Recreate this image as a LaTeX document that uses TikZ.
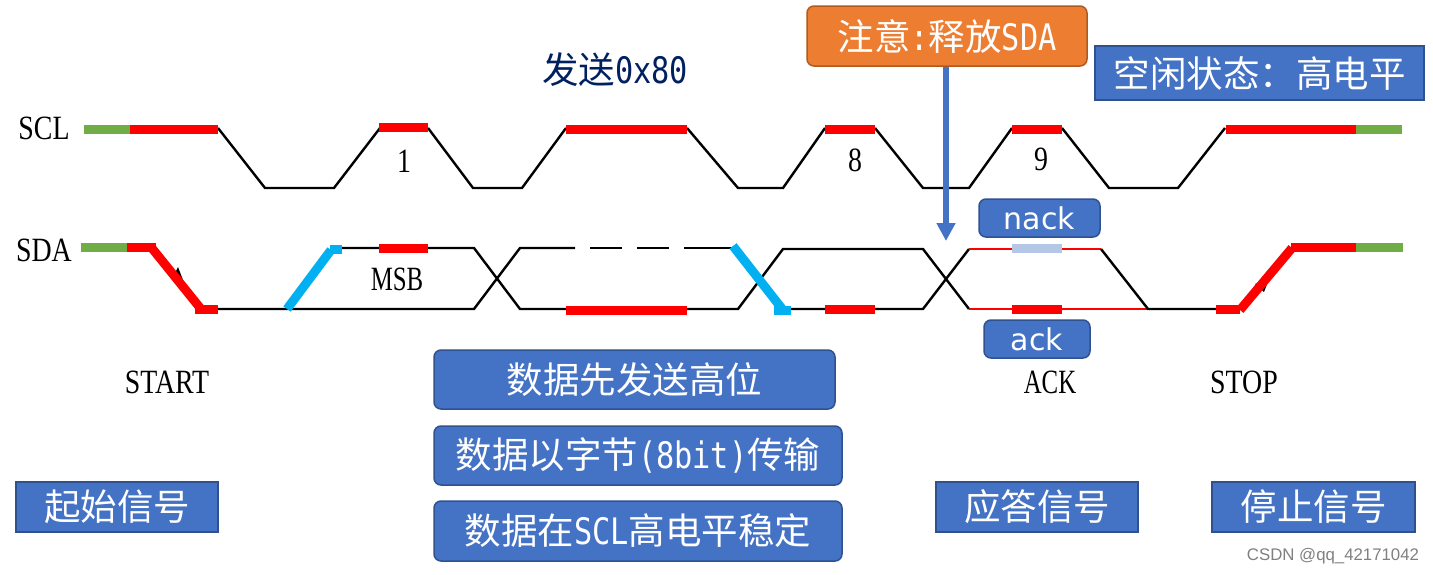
\documentclass[tikz,border=0pt]{standalone}
\usepackage{fontspec}
\usepackage{xcolor}
\usetikzlibrary{arrows.meta}
\newfontfamily\cjkfont{Noto Sans CJK SC}
\newfontfamily\halffont[FakeStretch=0.83]{DejaVu Sans Mono}
\newfontfamily\labelfont[FakeStretch=0.82]{Liberation Serif}
\newfontfamily\narrowfont[FakeStretch=0.73]{Liberation Serif}
\newfontfamily\ackfont{DejaVu Sans}
\newfontfamily\markfont{Liberation Sans}
\definecolor{boxBlueColor}{RGB}{68,114,196}
\definecolor{boxBorderColor}{RGB}{47,82,143}
\definecolor{noteColor}{RGB}{237,125,49}
\definecolor{noteBorderColor}{RGB}{174,90,33}
\definecolor{idleColor}{RGB}{112,173,71}
\definecolor{changeColor}{RGB}{0,176,240}
\definecolor{nackColor}{RGB}{180,199,231}
\definecolor{titleColor}{RGB}{0,32,96}

\begin{document}
\begin{tikzpicture}[
        x=1pt, y=-1pt,
        wave/.style={draw=black, line width=2.4pt},
        thinred/.style={draw=red, line width=2.4pt},
        hold/.style={draw=red, line width=9pt},
        idle/.style={draw=idleColor, line width=9pt},
        change/.style={draw=changeColor, line width=9pt},
        infobox/.style={
                draw=boxBorderColor,
                line width=1.5pt,
                fill=boxBlueColor,
                text=white,
                inner sep=0pt,
                font=\cjkfont\fontsize{36.5}{40}\selectfont
            },
        roundbox/.style={infobox, rounded corners=7pt},
        sigbox/.style={roundbox, font=\ackfont\fontsize{30}{34}\selectfont},
        siglabel/.style={inner sep=0pt, font=\labelfont\fontsize{34}{38}\selectfont},
        narrowlabel/.style={inner sep=0pt, font=\narrowfont\fontsize{34}{38}\selectfont}
    ]
    \useasboundingbox (0,0) rectangle (1433,574);

    % ---- Levels ----
    \def\sclH{128}
    \def\sclL{188}
    \def\sdaH{249}
    \def\sdaL{309}

    % ---- SCL ----
    \draw[wave] (218,\sclH) -- (265,\sclL) -- (334,\sclL) -- (380,\sclH);
    \draw[wave] (428,\sclH) -- (473,\sclL) -- (522,\sclL) -- (566,\sclH);
    \draw[wave] (687,\sclH) -- (738,\sclL) -- (783,\sclL) -- (825,\sclH);
    \draw[wave] (875,\sclH) -- (923,\sclL) -- (969,\sclL) -- (1012,\sclH);
    \draw[wave] (1062,\sclH) -- (1109,\sclL) -- (1178,\sclL) -- (1225,\sclH);
    \draw[idle] (84,129) -- (130,129);
    \draw[hold] (130,129) -- (218,129);
    \draw[hold] (379,127) -- (428,127);
    \draw[hold] (566,129) -- (687,129);
    \draw[hold] (825,129) -- (875,129);
    \draw[hold] (1012,129) -- (1062,129);
    \draw[hold] (1226,129) -- (1356,129);
    \draw[idle] (1356,129) -- (1402,129);

    % ---- SDA data lines ----
    \draw[wave] (218,\sdaL) -- (474,\sdaL) -- (520,\sdaH-1) -- (575,\sdaH-1);
    \draw[wave] (342,\sdaH-1) -- (474,\sdaH-1) -- (520,\sdaL) -- (738,\sdaL)
    -- (783,\sdaH) -- (923,\sdaH) -- (969,\sdaL);
    \draw[wave] (791,\sdaL) -- (923,\sdaL) -- (969,\sdaH);
    \draw[wave, dash pattern=on 32pt off 15pt] (590,\sdaH-1) -- (684,\sdaH-1);
    \draw[wave] (684,\sdaH-1) -- (733,\sdaH-1);
    \draw[thinred] (969,\sdaH) -- (1101,\sdaH);
    \draw[thinred] (969,\sdaL) -- (1148,\sdaL);
    \draw[wave] (1101,\sdaH) -- (1148,\sdaL) -- (1216,\sdaL);

    % small tips under the red edges
    \fill[black] (178,267) -- (183,280) -- (174,275) -- cycle;
    \fill[black] (1269,279) -- (1264,292) -- (1255,284) -- cycle;

    % ---- SDA marks ----
    \draw[idle] (81,247) -- (127,247);
    \draw[hold] (127,247) -- (156,247);
    \draw[hold] (151,247) -- (201,309);
    \draw[hold] (195,309) -- (218,309);
    \draw[hold] (379,248) -- (428,248);
    \draw[hold] (566,310) -- (687,310);
    \draw[hold] (825,309) -- (875,309);
    \draw[hold] (1012,309) -- (1062,309);
    \draw[draw=nackColor, line width=9pt] (1012,248) -- (1062,248);
    \draw[hold] (1216,309) -- (1240,309);
    \draw[hold] (1240,310) -- (1292,248);
    \draw[hold] (1291,247) -- (1356,247);
    \draw[idle] (1356,247) -- (1403,247);

    % ---- SDA changes ----
    \draw[change] (287,309) -- (331,250);
    \draw[change] (330,249) -- (342,249);
    \draw[change] (733,246) -- (783,310);
    \draw[change] (774,310) -- (791,310);

    % ---- Labels ----
    \node[siglabel] (sclname) at (44,128) {SCL};
    \node[siglabel] (sdaname) at (44,250) {SDA};
    \node[siglabel] (bitone) at (404,161) {1};
    \node[narrowlabel] (msb) at (397,279) {MSB};
    \node[siglabel] (biteight) at (855,160) {8};
    \node[siglabel] (bitnine) at (1041,159) {9};
    \node[siglabel] (start) at (167,382) {START};
    \node[narrowlabel] (ackname) at (1050,382) {ACK};
    \node[siglabel] (stop) at (1244,382) {STOP};
    \node[inner sep=0pt, text=titleColor, font=\cjkfont\fontsize{36.5}{40}\selectfont] (title)
    at (615,70) {发送{\halffont 0x80}};

    % ---- Note and arrow ----
    \node[roundbox, fill=noteColor, draw=noteBorderColor, minimum width=280pt, minimum height=60pt] (note)
    at (947,36) {注意{\halffont :}释放{\halffont SDA}};
    \coordinate (release) at (946,241);
    \draw[draw=boxBlueColor, line width=6pt, -{Triangle[width=18pt,length=18pt]}] (note.south -| release) -- (release);

    % ---- Boxes ----
    \node[infobox, minimum width=329pt, minimum height=54pt] (idlebox) at (1259.5,73) {空闲状态：高电平};
    \node[sigbox, minimum width=121pt, minimum height=38pt] (nack) at (1039.5,218) {nack};
    \node[sigbox, minimum width=106pt, minimum height=38pt] (ack) at (1037,339) {ack};
    \node[roundbox, minimum width=401pt, minimum height=59pt] (msbfirst) at (634.5,379.5) {数据先发送高位};
    \node[roundbox, minimum width=408pt, minimum height=59pt] (bytes) at (638,455.5) {数据以字节{\halffont (8bit)}传输};
    \node[roundbox, minimum width=408pt, minimum height=60pt] (stable) at (638,531) {数据在{\halffont SCL}高电平稳定};
    \node[infobox, minimum width=202pt, minimum height=50pt] (startbox) at (117,507) {起始信号};
    \node[infobox, minimum width=202pt, minimum height=50pt] (ackbox) at (1037,507) {应答信号};
    \node[infobox, minimum width=203pt, minimum height=50pt] (stopbox) at (1313.5,507) {停止信号};

    % ---- Watermark ----
    \node[inner sep=0pt, text=black!50, font=\markfont\fontsize{16.8}{18}\selectfont] (mark) at (1333,556) {CSDN @qq\_42171042};
\end{tikzpicture}
\end{document}
